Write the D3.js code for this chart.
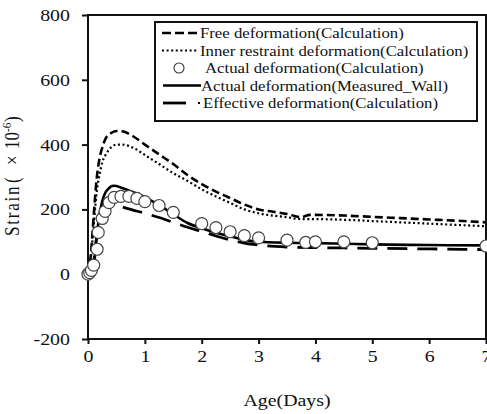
<!DOCTYPE html>
<html><head><meta charset="utf-8">
<script src="https://cdn.jsdelivr.net/npm/d3@7"></script>
<style>
body{margin:0;background:#fff}
svg{display:block}
text{font-family:"Liberation Serif","Times New Roman",serif;fill:#111}
</style>
</head><body>
<script>
// ---- data ----
const xTicks = [0,1,2,3,4,5,6,7];
const yTicks = [-200,0,200,400,600,800];

const freeDays = [0,0.05,0.1,0.15,0.2,0.25,0.3,0.4,0.5,0.6,0.8,1.0,1.25,1.5,1.75,2.0,2.25,2.5,2.75,3.0,3.25,3.5,3.75,3.9,4.0,4.5,5,5.5,6,6.5,7];
const freeVals = [0,60,180,290,355,390,415,435,442,441,425,400,370,340,306,278,255,235,215,200,193,186,176,183,183,181,177,173,169,165,160];

const innerDays = [0,0.05,0.1,0.15,0.2,0.25,0.3,0.4,0.5,0.6,0.8,1.0,1.25,1.5,1.75,2.0,2.25,2.5,2.75,3.0,3.5,3.75,4.0,4.5,5,5.5,6,6.5,7];
const innerVals = [0,50,150,250,305,345,365,390,400,400,390,368,340,312,288,262,240,220,200,188,176,170,170,168,164,160,156,152,148];

const measDays = [0,0.05,0.1,0.15,0.2,0.25,0.3,0.35,0.4,0.45,0.5,0.6,0.75,1.0,1.25,1.5,1.75,2.0,2.25,2.5,2.75,3.0,3.5,4.0,4.5,5,6,7];
const measVals = [0,5,20,115,180,225,250,262,270,273,272,266,256,238,213,185,158,142,128,117,106,100,97,96,94,92,90,89];

const effDays = [0,0.05,0.1,0.15,0.2,0.25,0.3,0.4,0.5,0.6,0.75,1.0,1.25,1.5,1.75,2.0,2.25,2.5,2.75,3.0,3.5,4.0,4.5,5,6,7];
const effVals = [0,10,40,110,165,195,210,217,214,208,200,188,175,160,145,132,118,106,96,90,84,82,81,80,78,76];

const calcDays = [0,0.03,0.06,0.1,0.16,0.18,0.25,0.3,0.37,0.46,0.58,0.72,0.86,1.0,1.25,1.5,2.0,2.25,2.5,2.75,3.0,3.5,3.83,4.0,4.5,5.0,7.0];
const calcVals = [0,5,12,28,77,129,172,194,221,237,240,240,234,224,212,191,156,144,131,119,112,105,98,100,100,97,87];

const legendLabels = [
  "Free deformation(Calculation)",
  "Inner restraint deformation(Calculation)",
  "Actual deformation(Calculation)",
  "Actual deformation(Measured_Wall)",
  "Effective deformation(Calculation)"
];

// ---- chart ----
const W = 487, H = 414;
const SX = 1.17; // horizontal text stretch of the original
const svg = d3.select("body").append("svg").attr("width", W).attr("height", H);

const x = d3.scaleLinear().domain([0,7]).range([88,486]);
const y = d3.scaleLinear().domain([-200,800]).range([339,15]);

const zip = (a,b) => a.map((d,i)=>[d,b[i]]);
const line = d3.line().x(d=>x(d[0])).y(d=>y(d[1])).curve(d3.curveMonotoneX);

// axes
const yAxis = d3.axisLeft(y).tickValues(yTicks).tickFormat(d=>String(d)).tickSize(6).tickPadding(9.4);
const gy = svg.append("g").attr("transform","translate(88,0)").call(yAxis);
const xAxis = d3.axisBottom(x).tickValues(xTicks).tickFormat(d=>String(d)).tickSize(5).tickPadding(6);
const gx = svg.append("g").attr("transform","translate(0,339)").call(xAxis);
[gx,gy].forEach(g=>{
  g.select(".domain").remove();
  g.selectAll(".tick line").attr("stroke","#111").attr("stroke-width",2);
  g.selectAll(".tick text").attr("font-size",17).attr("font-family","Liberation Serif, serif")
    .attr("fill","#111").attr("transform",`scale(${SX},1)`);
});

// frame
svg.append("rect").attr("x",88).attr("y",15).attr("width",398).attr("height",324)
  .attr("fill","none").attr("stroke","#111").attr("stroke-width",2);

// series lines
const series = [
  {d: zip(freeDays,freeVals), dash:"8,4", w:2.6},
  {d: zip(innerDays,innerVals), dash:"2,2.6", w:2.2},
  {d: zip(measDays,measVals), dash:null, w:2.6},
  {d: zip(effDays,effVals), dash:"20,10", w:2.8}
];
series.forEach(s=>{
  svg.append("path").datum(s.d).attr("d",line).attr("fill","none")
    .attr("stroke","#000").attr("stroke-width",s.w)
    .attr("stroke-dasharray",s.dash);
});

// circles
svg.append("g").selectAll("circle").data(zip(calcDays,calcVals)).join("circle")
  .attr("cx",d=>x(d[0])).attr("cy",d=>y(d[1])).attr("r",6)
  .attr("fill","#fff").attr("stroke","#444").attr("stroke-width",1.2);

// legend
const lg = svg.append("g");
lg.append("rect").attr("x",155).attr("y",22).attr("width",322).attr("height",99)
  .attr("fill","#fff").attr("stroke","#111").attr("stroke-width",2);
const rowY = [33,50.5,68,85.5,103];
const textX = [200,200,205,201,203];
lg.append("line").attr("x1",162).attr("x2",198).attr("y1",rowY[0]).attr("y2",rowY[0])
  .attr("stroke","#000").attr("stroke-width",2.6).attr("stroke-dasharray","9,4");
lg.append("line").attr("x1",162).attr("x2",198).attr("y1",rowY[1]).attr("y2",rowY[1])
  .attr("stroke","#000").attr("stroke-width",2).attr("stroke-dasharray","2,2.6");
lg.append("circle").attr("cx",179).attr("cy",rowY[2]).attr("r",5)
  .attr("fill","#fff").attr("stroke","#333").attr("stroke-width",1.1);
lg.append("line").attr("x1",163).attr("x2",201).attr("y1",rowY[3]).attr("y2",rowY[3])
  .attr("stroke","#000").attr("stroke-width",2.6);
lg.append("line").attr("x1",163).attr("x2",186).attr("y1",rowY[4]).attr("y2",rowY[4])
  .attr("stroke","#000").attr("stroke-width",2.8);
lg.append("rect").attr("x",198).attr("y",rowY[4]-1).attr("width",2).attr("height",2).attr("fill","#000");
legendLabels.forEach((t,i)=>{
  lg.append("g").attr("transform",`translate(${textX[i]},${rowY[i]}) scale(${SX},1)`)
    .append("text").attr("x",0).attr("y",0).attr("dy","0.35em")
    .attr("font-size",14.3).text(t);
});

// axis titles
svg.append("g").attr("transform",`translate(287,406) scale(${SX},1)`)
  .append("text").attr("text-anchor","middle").attr("font-size",17).text("Age(Days)");

const yl = svg.append("g").attr("transform",`translate(19,236) rotate(-90) scale(1,${SX})`)
  .append("text").attr("text-anchor","start").attr("font-size",17);
yl.append("tspan").attr("x",0).attr("letter-spacing",1.8).text("Strain");
yl.append("tspan").attr("x",53).text("(");
yl.append("tspan").attr("x",71).text("×");
yl.append("tspan").attr("x",87).text("10");
yl.append("tspan").attr("x",104).attr("dy",-7).attr("font-size",11).text("-6");
yl.append("tspan").attr("x",114).attr("dy",7).text(")");
</script>
</body></html>
